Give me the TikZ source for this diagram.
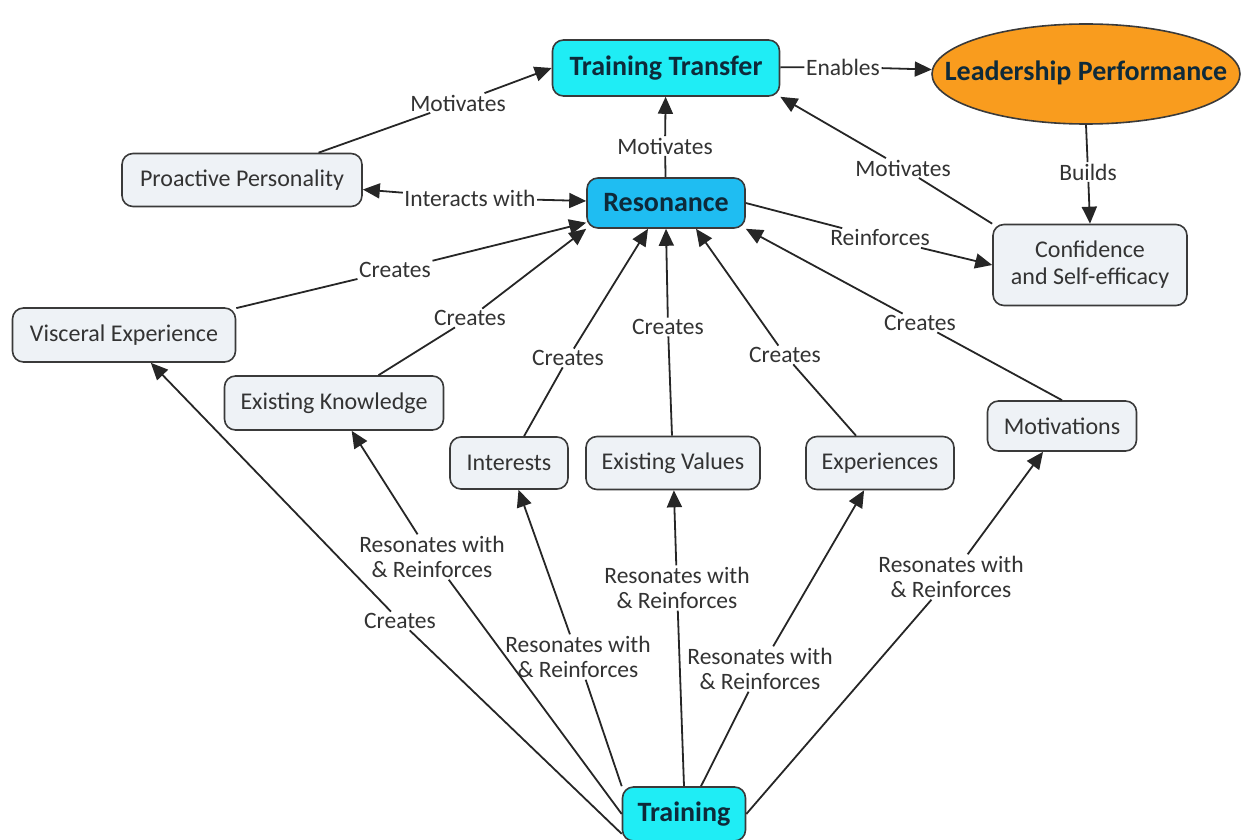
\documentclass[tikz,border=0pt]{standalone}
\usepackage{fontspec}
\setmainfont{Carlito}
\usetikzlibrary{arrows.meta,shapes.geometric}
\definecolor{edgegray}{HTML}{262626}
\definecolor{boxline}{HTML}{3A3A3A}
\definecolor{boxfill}{HTML}{EEF2F6}
\definecolor{boxtext}{HTML}{333333}
\definecolor{aquafill}{HTML}{1FEDF5}
\definecolor{bluefill}{HTML}{1FBDF2}
\definecolor{orangefill}{HTML}{F99C1E}
\definecolor{headtext}{HTML}{0E2A3A}
\begin{document}
\begin{tikzpicture}[x=1pt,y=-1pt,
  box/.style={draw=boxline, line width=1.6pt, rounded corners=11pt, fill=boxfill,
    text=boxtext, font=\fontsize{24}{27}\selectfont, align=center, inner sep=2pt},
  headbox/.style={box, text=headtext, font=\fontsize{28}{31}\selectfont\bfseries},
  lbl/.style={fill=white, text=boxtext, font=\fontsize{23.5}{25.5}\selectfont,
    align=center, inner sep=1.5pt},
  conn/.style={draw=edgegray, line width=1.8pt},
  arr/.style={conn, -{Triangle[length=17pt,width=15pt]}},
]
\useasboundingbox (0,0) rectangle (1253,840);

% concept nodes
\node[headbox, fill=aquafill, minimum width=227pt, minimum height=56pt] (tt) at (666,68) {Training Transfer};
\node[ellipse, draw=boxline, line width=1.6pt, fill=orangefill, text=headtext,
      font=\fontsize{28}{31}\selectfont\bfseries, minimum width=308pt, minimum height=100pt,
      inner sep=0pt] (lp) at (1086,74)
      {\makebox[0pt]{\raisebox{6pt}{Leadership Performance}}};
\node[box, minimum width=240pt, minimum height=53pt] (pp) at (242,180) {Proactive Personality};
\node[headbox, fill=bluefill, minimum width=158pt, minimum height=50pt] (res) at (666,203) {Resonance};
\node[box, minimum width=194pt, minimum height=81pt] (conf) at (1090,265) {Confidence\\and Self-efficacy};
\node[box, minimum width=223pt, minimum height=54pt] (ve) at (124,335) {Visceral Experience};
\node[box, minimum width=219pt, minimum height=54pt] (ek) at (334,403) {Existing Knowledge};
\node[box, minimum width=118pt, minimum height=52pt] (int) at (509,463) {Interests};
\node[box, minimum width=174pt, minimum height=53pt] (ev) at (673,463) {Existing Values};
\node[box, minimum width=148pt, minimum height=53pt] (exp) at (880,463) {Experiences};
\node[box, minimum width=149pt, minimum height=50pt] (mot) at (1062,426) {Motivations};
\node[headbox, fill=aquafill, minimum width=123pt, minimum height=54pt] (trn) at (684,814) {Training};

% link labels
\node[lbl] (l1) at (458,103) {Motivates};
\node[lbl] (l2) at (843,67) {Enables};
\node[lbl] (l3) at (665,146) {Motivates};
\node[lbl] (l4) at (903,168) {Motivates};
\node[lbl] (l5) at (1088,172) {Builds};
\node[lbl] (l6) at (470,198) {Interacts with};
\node[lbl] (l7) at (880,238) {Reinforces};
\node[lbl] (c1) at (395,270) {Creates};
\node[lbl] (c2) at (470,318) {Creates};
\node[lbl] (c3) at (568,358) {Creates};
\node[lbl] (c4) at (668,327) {Creates};
\node[lbl] (c5) at (785,355) {Creates};
\node[lbl] (c6) at (920,323) {Creates};
\node[lbl] (t1) at (400,621) {Creates};
\node[lbl] (t2) at (432,557) {Resonates with\\\& Reinforces};
\node[lbl] (t3) at (578,657) {Resonates with\\\& Reinforces};
\node[lbl] (t4) at (677,588) {Resonates with\\\& Reinforces};
\node[lbl] (t5) at (760,669) {Resonates with\\\& Reinforces};
\node[lbl] (t6) at (951,577) {Resonates with\\\& Reinforces};

% upper links
\draw[conn] (pp) -- (l1);   \draw[arr] (l1) -- (tt.west);
\draw[conn] (tt) -- (l2);   \draw[arr] (l2) -- (lp);
\draw[conn] (res) -- (l3);  \draw[arr] (l3) -- (tt);
\draw[conn] (conf.north west) -- (l4); \draw[arr] (l4) -- (tt.south east);
\draw[conn] (lp.south) -- (l5); \draw[arr] (l5) -- (conf.north);
\draw[arr] (l6) -- (pp);    \draw[arr] (l6) -- (res);
\draw[conn] (res.east) -- (l7); \draw[arr] (l7) -- (conf.west);

% what creates resonance
\draw[conn] (ve) -- (c1);   \draw[arr] (c1) -- (res);
\draw[conn] (ek) -- (c2);   \draw[arr] (c2) -- (res.south west);
\draw[conn] (int) -- (c3);  \draw[arr] (c3) -- ([xshift=-18pt]res.south);
\draw[conn] (ev) -- (c4);   \draw[arr] (c4) -- (res.south);
\draw[conn] (exp) -- (c5);  \draw[arr] (c5) -- ([xshift=30pt]res.south);
\draw[conn] (mot.north) -- (c6); \draw[arr] (c6) -- (res.south east);

% links from training
\draw[conn] ([yshift=8pt]trn.south west) -- (t1); \draw[arr] (t1) -- (ve);
\draw[conn] (trn.west) -- (t2);        \draw[arr] (t2) -- (ek);
\draw[conn] (trn.north west) -- (t3);  \draw[arr] (t3) -- (int);
\draw[conn] (trn.north) -- (t4);       \draw[arr] (t4) -- (ev);
\draw[conn] ([xshift=17pt]trn.north) -- (t5); \draw[arr] (t5) -- (exp);
\draw[conn] (trn.east) -- (t6);        \draw[arr] (t6) -- (mot);
\end{tikzpicture}
\end{document}
